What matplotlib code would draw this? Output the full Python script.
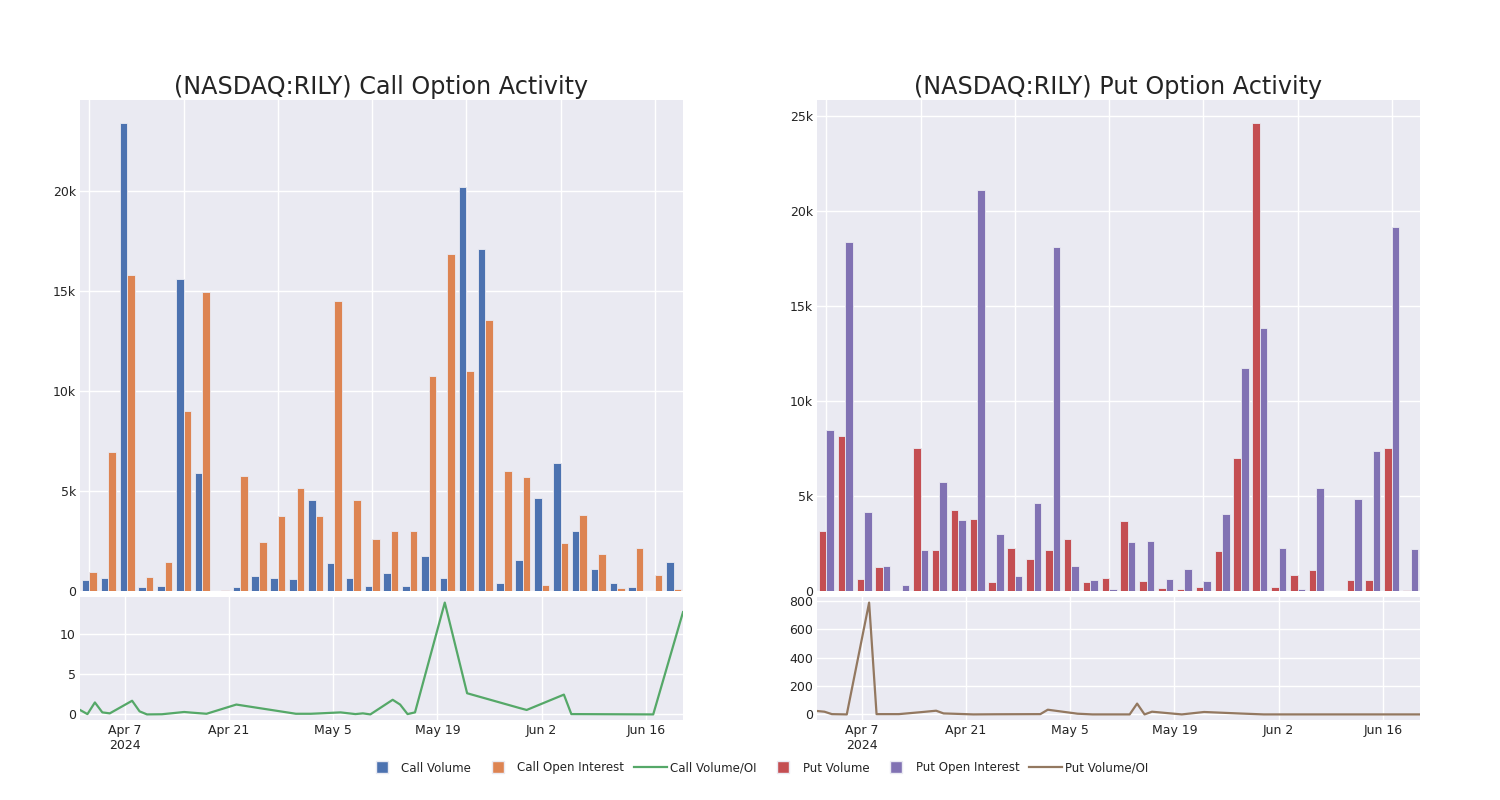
import matplotlib
matplotlib.use("Agg")
import matplotlib.pyplot as plt
from matplotlib.ticker import FuncFormatter, FixedLocator
from matplotlib.lines import Line2D
import numpy as np
import pandas as pd

# ---------------- data ----------------
call_dates = ['2024-04-01', '2024-04-02', '2024-04-03', '2024-04-04', '2024-04-05',
              '2024-04-08', '2024-04-09', '2024-04-10', '2024-04-12', '2024-04-15',
              '2024-04-16', '2024-04-18', '2024-04-22', '2024-04-30', '2024-05-02',
              '2024-05-03', '2024-05-06', '2024-05-08', '2024-05-09', '2024-05-10',
              '2024-05-13', '2024-05-14', '2024-05-15', '2024-05-16', '2024-05-20',
              '2024-05-23', '2024-05-30', '2024-05-31', '2024-06-05', '2024-06-06',
              '2024-06-17', '2024-06-21']
call_volume = [570, 640, 23400, 180, 230, 15620, 5890, 0, 220, 740,
               640, 590, 4530, 1420, 650, 230, 890, 230, 1770, 650,
               20220, 17100, 420, 1560, 4670, 6400, 2990, 1090, 420, 180,
               0, 1450]
call_oi = [950, 6940, 15820, 720, 1440, 9000, 14970, 70, 5770, 2460,
           3750, 5170, 3750, 14500, 4550, 2590, 3010, 3010, 10770, 16860,
           11020, 13550, 6020, 5700, 300, 2410, 3810, 1840, 150, 2160,
           820, 90]
call_vol_oi = [0.55, 0.04, 1.48, 0.25, 0.13, 1.69, 0.38, 0.0, 0.02, 0.30,
               0.22, 0.08, 1.22, 0.08, 0.08, 0.12, 0.25, 0.04, 0.13, 0.0,
               1.81, 1.22, 0.04, 0.25, 13.84, 2.62, 0.80, 0.55, 2.45, 0.04,
               0.0, 12.66]

put_dates = ['2024-04-01', '2024-04-02', '2024-04-03', '2024-04-04', '2024-04-05',
             '2024-04-08', '2024-04-09', '2024-04-10', '2024-04-12', '2024-04-15',
             '2024-04-17', '2024-04-18', '2024-04-22', '2024-04-25', '2024-05-01',
             '2024-05-02', '2024-05-06', '2024-05-08', '2024-05-10', '2024-05-13',
             '2024-05-14', '2024-05-15', '2024-05-16', '2024-05-20', '2024-05-23',
             '2024-05-28', '2024-05-31', '2024-06-05', '2024-06-07', '2024-06-12',
             '2024-06-17', '2024-06-21']
put_volume = [3150, 8170, 650, 1250, 0, 7500, 2180, 4240, 3810, 460,
              2270, 1700, 2130, 2710, 470, 700, 3670, 510, 160, 90,
              190, 2090, 7010, 24590, 210, 860, 1120, 20, 600, 580,
              7500, 40]
put_oi = [8470, 18370, 4150, 1340, 320, 2140, 5710, 3730, 21090, 3000,
          810, 4640, 18080, 1320, 600, 90, 2570, 2620, 650, 1140,
          530, 4060, 11740, 13830, 2280, 110, 5410, 20, 4830, 7350,
          19120, 2200]
put_vol_oi = [24, 19, 2, 1, 0, 786, 2, 2, 2, 16,
              26, 7, 0, 1, 2, 33, 5, 0, 0, 0,
              76, 0, 19, 0, 17, 6, 0, 0, 0, 0,
              0, 0]

date_ticks = ['2024-04-07', '2024-04-21', '2024-05-05', '2024-05-19', '2024-06-02', '2024-06-16']

legend_labels = ['Call Volume', 'Call Open Interest', 'Call Volume/OI',
                 'Put Volume', 'Put Open Interest', 'Put Volume/OI']

# ---------------- style ----------------
BG = '#EAEAF2'
TXT = '#242424'
C_BLUE, C_ORANGE, C_GREEN = '#4C72B0', '#DD8452', '#55A868'
C_RED, C_PURPLE, C_BROWN = '#C44E52', '#8172B3', '#937860'
plt.rcParams['font.family'] = ['DejaVu Sans']

W, H = 1500, 800
fig = plt.figure(figsize=(15, 8), dpi=100)


def frac(x0, y0, x1, y1):
    return [x0 / W, 1 - y1 / H, (x1 - x0) / W, (y1 - y0) / H]


def style_ax(ax):
    ax.set_facecolor(BG)
    for s in ax.spines.values():
        s.set_visible(False)
    ax.grid(True, color='white', linewidth=1)
    ax.set_axisbelow(True)
    ax.tick_params(length=0, labelsize=9, colors=TXT, pad=3)


def kfmt(v, pos):
    if abs(v) < 1e-9:
        return '0'
    return f'{int(round(v / 1000))}k'


def draw_panel(x0, x1, title, vol, oi, cvol, coi, dates, ratio, cline, yticks_line):
    axb = fig.add_axes(frac(x0, 100, x1, 591))
    axl = fig.add_axes(frac(x0, 597, x1, 720))
    style_ax(axb)
    style_ax(axl)
    idx = np.arange(len(vol))
    axb.bar(idx - 0.2, vol, width=0.4, color=cvol, edgecolor=BG, linewidth=0.6)
    axb.bar(idx + 0.2, oi, width=0.4, color=coi, edgecolor=BG, linewidth=0.6)
    axb.set_xlim(-0.5, len(vol) - 0.5)
    axb.xaxis.set_major_locator(FixedLocator(np.arange(0, len(vol), 5)))
    axb.set_xticklabels([])
    axb.yaxis.set_major_formatter(FuncFormatter(kfmt))
    axb.set_title(title, fontsize=17.2, color=TXT, pad=4)

    d = pd.to_datetime(dates)
    axl.plot(d, ratio, color=cline, linewidth=1.6)
    axl.margins(x=0)
    axl.set_xlim(d[0], d[-1])
    tks = pd.to_datetime(date_ticks)
    axl.set_xticks(tks)
    labels = []
    for i, t in enumerate(tks):
        s = f'{t.strftime("%b")} {t.day}'
        if i == 0:
            s += f'\n{t.year}'
        labels.append(s)
    axl.set_xticklabels(labels)
    axl.set_yticks(yticks_line)
    return axb, axl


draw_panel(80, 683, '(NASDAQ:RILY) Call Option Activity', call_volume, call_oi,
           C_BLUE, C_ORANGE, call_dates, call_vol_oi, C_GREEN, [0, 5, 10])
draw_panel(817, 1420, '(NASDAQ:RILY) Put Option Activity', put_volume, put_oi,
           C_RED, C_PURPLE, put_dates, put_vol_oi, C_BROWN, [0, 200, 400, 600, 800])

handles = [
    Line2D([], [], marker='s', linestyle='none', markersize=8.5, color=C_BLUE, markeredgecolor=BG),
    Line2D([], [], marker='s', linestyle='none', markersize=8.5, color=C_ORANGE, markeredgecolor=BG),
    Line2D([], [], color=C_GREEN, linewidth=1.6),
    Line2D([], [], marker='s', linestyle='none', markersize=8.5, color=C_RED, markeredgecolor=BG),
    Line2D([], [], marker='s', linestyle='none', markersize=8.5, color=C_PURPLE, markeredgecolor=BG),
    Line2D([], [], color=C_BROWN, linewidth=1.6),
]
leg = fig.legend(handles, legend_labels, loc='center', bbox_to_anchor=(757 / W, 1 - 768 / H),
                 ncol=6, frameon=False, fontsize=8.5, handlelength=2.8,
                 handletextpad=0.25, columnspacing=0.85)
for t in leg.get_texts():
    t.set_color(TXT)

fig.savefig('out.png', dpi=100)
